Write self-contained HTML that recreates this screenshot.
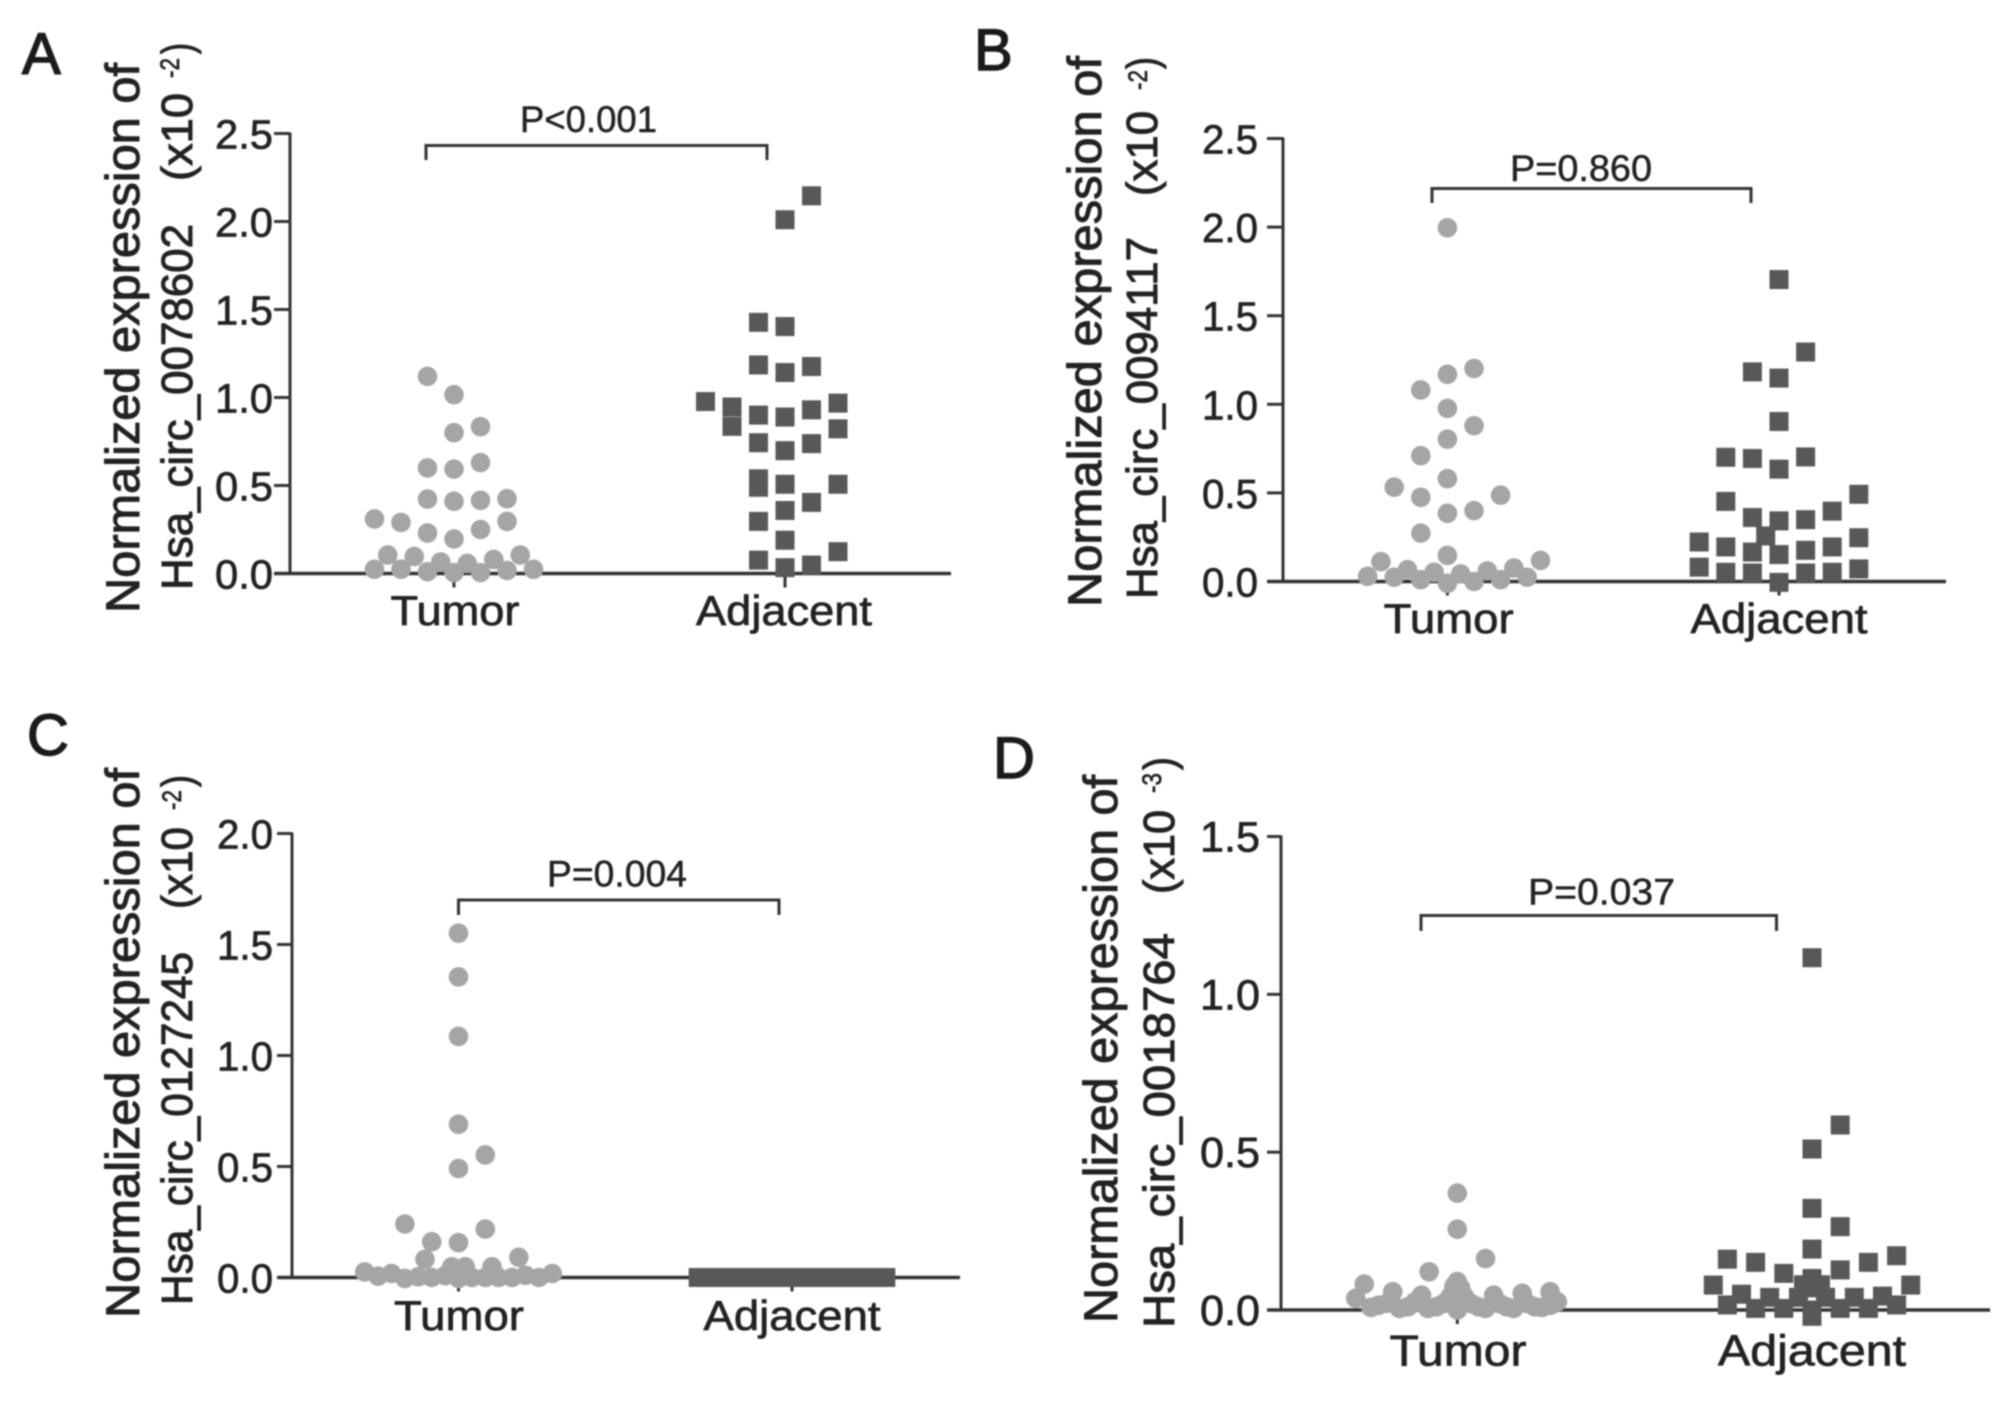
<!DOCTYPE html>
<html lang="en">
<head>
<meta charset="utf-8">
<title>Normalized expression of circRNAs in tumor and adjacent tissue</title>
<style>
html,body{margin:0;padding:0;background:#fff;}
body{width:2008px;height:1422px;overflow:hidden;}
svg{display:block;filter:blur(0.7px);}
text{font-family:"Liberation Sans",sans-serif;fill:#222;stroke:#222;stroke-width:0.7px;}
.t1{font-size:47px;stroke-width:1px;}
.t2{font-size:44px;stroke-width:1px;}
.sup{font-size:27px;}
.panel{font-size:58px;fill:#1a1a1a;stroke:#1a1a1a;stroke-width:1.4px;}
.p{font-size:37px;stroke-width:0.5px;}
</style>
</head>
<body>
<svg id="figure" xmlns="http://www.w3.org/2000/svg" width="2008" height="1422" viewBox="0 0 2008 1422">
  <rect x="0" y="0" width="2008" height="1422" fill="#fff"/>

  <text class="panel" x="22" y="74">A</text>
  <text class="panel" x="974" y="70">B</text>
  <text class="panel" x="27" y="755">C</text>
  <text class="panel" x="993" y="778">D</text>

  <g>
    <text class="t1" transform="translate(139,613) rotate(-90)" textLength="550" lengthAdjust="spacingAndGlyphs">Normalized expression of</text>
    <text class="t2" transform="translate(192,590) rotate(-90)" textLength="366" lengthAdjust="spacingAndGlyphs">Hsa_circ_0078602</text>
    <text class="t2" transform="translate(192,181) rotate(-90)" textLength="88" lengthAdjust="spacingAndGlyphs">(x10</text>
    <text class="sup" transform="translate(179,78) rotate(-90)" textLength="20" lengthAdjust="spacingAndGlyphs">-2</text>
    <text class="t2" transform="translate(192,54) rotate(-90)" textLength="11" lengthAdjust="spacingAndGlyphs">)</text>
  </g>
  <g>
    <text class="t1" transform="translate(1101,607) rotate(-90)" textLength="551" lengthAdjust="spacingAndGlyphs">Normalized expression of</text>
    <text class="t2" transform="translate(1157,599) rotate(-90)" textLength="362" lengthAdjust="spacingAndGlyphs">Hsa_circ_0094117</text>
    <text class="t2" transform="translate(1157,196) rotate(-90)" textLength="85" lengthAdjust="spacingAndGlyphs">(x10</text>
    <text class="sup" transform="translate(1147,90) rotate(-90)" textLength="20" lengthAdjust="spacingAndGlyphs">-2</text>
    <text class="t2" transform="translate(1157,69) rotate(-90)" textLength="12" lengthAdjust="spacingAndGlyphs">)</text>
  </g>
  <g>
    <text class="t1" transform="translate(139,1318) rotate(-90)" textLength="550" lengthAdjust="spacingAndGlyphs">Normalized expression of</text>
    <text class="t2" transform="translate(192,1305) rotate(-90)" textLength="353" lengthAdjust="spacingAndGlyphs">Hsa_circ_0127245</text>
    <text class="t2" transform="translate(192,909) rotate(-90)" textLength="82" lengthAdjust="spacingAndGlyphs">(x10</text>
    <text class="sup" transform="translate(181,810) rotate(-90)" textLength="20" lengthAdjust="spacingAndGlyphs">-2</text>
    <text class="t2" transform="translate(192,787) rotate(-90)" textLength="12" lengthAdjust="spacingAndGlyphs">)</text>
  </g>
  <g>
    <text class="t1" transform="translate(1117,1323) rotate(-90)" textLength="548" lengthAdjust="spacingAndGlyphs">Normalized expression of</text>
    <text class="t2" transform="translate(1174,1328) rotate(-90)" textLength="395" lengthAdjust="spacingAndGlyphs">Hsa_circ_0018764</text>
    <text class="t2" transform="translate(1174,894) rotate(-90)" textLength="84" lengthAdjust="spacingAndGlyphs">(x10</text>
    <text class="sup" transform="translate(1161,793) rotate(-90)" textLength="20" lengthAdjust="spacingAndGlyphs">-3</text>
    <text class="t2" transform="translate(1174,770) rotate(-90)" textLength="13" lengthAdjust="spacingAndGlyphs">)</text>
  </g>
</svg>

<script>
// ---- Panel A ----
const aTickLabels = ['0.0','0.5','1.0','1.5','2.0','2.5'];
const aTumorValues = [1.12,1.016,0.80,0.834,0.60,0.593,0.63,0.423,0.41,0.416,0.425,0.31,0.29,0.23,0.25,0.296,0.196,0.105,0.096,0.08,0.105,0.024,0.024,0.01,0.065,0.005,0.057,0.005,0.017,0.024];
const aTumorSlots = [-1,0,0,1,-1,0,1,-1,0,1,2,-3,-2,-1,1,2,0,-2.5,-1.5,1.5,2.5,-3,-2,-1,-0.5,0,0.5,1,2,3];
const aAdjacentValues = [2.146,2.01,1.427,1.403,1.185,1.142,1.176,0.977,0.946,0.90,0.889,0.93,0.968,0.836,0.822,0.743,0.698,0.738,0.538,0.49,0.507,0.507,0.404,0.358,0.296,0.189,0.076,0.124,0.033,0.048];
const aAdjacentSlots = [1,0,-1,0,-1,0,1,-3,-2,-1,0,1,2,-2,2,-1,0,1,-1,-1,0,2,1,0,-1,0,-1,2,0,1];

// ---- Panel B ----
const bTickLabels = ['0.0','0.5','1.0','1.5','2.0','2.5'];
const bTumorValues = [1.996,1.202,1.169,1.081,0.977,0.879,0.803,0.71,0.58,0.532,0.475,0.487,0.385,0.40,0.273,0.147,0.112,0.119,0.076,0.029,0.024,0.067,0.01,0.052,-0.01,0.043,0,0.06,0.01,0.024];
const bTumorSlots = [0,1,0,-1,0,1,0,-1,0,-2,-1,2,0,1,-1,0,-2.5,3.5,2.5,-3,-2,-1.5,-1,-0.5,0,0.5,1,1.5,2,3];
const bAdjacentValues = [1.704,1.295,1.183,1.148,0.903,0.701,0.694,0.703,0.634,0.492,0.452,0.397,0.361,0.342,0.349,0.257,0.247,0.223,0.195,0.166,0.152,0.176,0.195,0.081,0.052,0.048,-0.005,0.048,0.052,0.071];
const bAdjacentSlots = [0,1,-1,0,0,-2,-1,1,0,3,-2,2,-1,0,1,-0.5,3,-3,-2,-1,0,1,2,-3,-2,-1,0,1,2,3];

// ---- Panel C ----
const cTickLabels = ['0.0','0.5','1.0','1.5','2.0'];
const cTumorValues = [1.551,1.354,1.086,0.69,0.552,0.491,0.241,0.218,0.161,0.157,0.082,0.091,0.025,0.006,0.018,-0.004,0.003,0,0.048,-0.004,0.048,0,0,0.048,0,0,0.01,0,0.018,0.008];
const cTumorSlots = [0,0,0,0,1,0,-2,1,-1,0,-1.25,2.25,-3.5,-3,-2.5,-2,-1.5,-1,-0.25,0,0.25,0.5,1,1.25,1.5,2,2.5,3,3.5,-0.5];
const cAdjacentValues = [0,0,0,0,0,0,0,0,0,0,0,0,0,0,0,0,0,0,0,0,0,0,0,0,0,0,0,0,0];
const cAdjacentSlots = [-3.5,-3.25,-3,-2.75,-2.5,-2.25,-2,-1.75,-1.5,-1.25,-1,-0.75,-0.5,-0.25,0,0.25,0.5,0.75,1,1.25,1.5,1.75,2,2.25,2.5,2.75,3,3.25,3.5];

// ---- Panel D ----
const dTickLabels = ['0.0','0.5','1.0','1.5'];
const dTumorValues = [0.37,0.256,0.163,0.121,0.082,0.037,0.008,0.058,0.005,0.021,0.047,0.005,0.026,0.09,0.058,0.042,0.042,0.026,0.02,0.02,0,0.005,0.047,0.02,0.005,0.053,0.02,0.008,0.058,0.026,0.015,0.01,0.01,0.01,0.01,0.01,0.015,0.075,0.07];
const dTumorSlots = [0,0,1,-1,-3.3,-3.6,-3.06,-2.29,-2.05,-2.5,-1.27,-1.04,-1.5,0,0,-0.26,0.26,0,-0.5,0.5,0,1,1.29,1.5,2,2.3,2.5,3,3.29,3.55,-2.8,-1.75,-0.75,0.75,1.75,2.75,3.3,-0.12,0.12];
const dAdjacentValues = [1.116,0.586,0.51,0.322,0.264,0.193,0.161,0.151,0.116,0.127,0.151,0.172,0.079,0.079,0.05,0.016,0.04,0.005,0.005,0.04,0.1,0.08,0.08,0.07,0.04,0.005,0.04,0.005,0.044,0.016,0,-0.02];
const dAdjacentSlots = [0,1,0,0,1,0,-3,-2,-1,1,2,3,-3.5,3.5,-2.5,-3,-1.5,-2,-1,-0.48,0,-0.3,0.3,0,0.48,1,1.5,2,2.5,3,0,0];

const categories = ['Tumor','Adjacent'];
const pValues = ['P<0.001','P=0.860','P=0.004','P=0.037'];

const TUMOR_COLOR = '#a5a5a5';
const ADJ_COLOR = '#585858';
const LINE_COLOR = '#333333';
const NS = 'http://www.w3.org/2000/svg';
const svg = document.getElementById('figure');

function make(parent, tag, attrs, text) {
  const node = document.createElementNS(NS, tag);
  for (const k in attrs) node.setAttribute(k, attrs[k]);
  if (text !== undefined) node.textContent = text;
  parent.appendChild(node);
  return node;
}

function drawPanel(cfg) {
  const yScale = v => cfg.y0 - (v / cfg.max) * (cfg.y0 - cfg.yTop);
  const xScale = (cat, slot) => cfg.catX[cat] + slot * cfg.step;

  const g = make(svg, 'g', {});
  
  

  const yAxis = make(g, 'line', {x1: cfg.axisX, x2: cfg.axisX, y1: cfg.yTop - 1, y2: cfg.y0, stroke: LINE_COLOR, 'stroke-width': 3});
  
  

  const xAxis = make(g, 'line', {x1: cfg.xLeft, x2: cfg.xRight, y1: cfg.y0, y2: cfg.y0, stroke: LINE_COLOR, 'stroke-width': 3.4});
  
  

  cfg.ticks.forEach(label => {
    const v = parseFloat(label);
    const y = yScale(v);
    const tick = make(g, 'line', {x1: cfg.xLeft, x2: cfg.axisX, y1: y, y2: y, stroke: LINE_COLOR, 'stroke-width': 3});
    
    
    const txt = make(g, 'text', {x: cfg.labelRight, y: y + 15, 'text-anchor': 'end', 'font-size': cfg.tickFont, textLength: cfg.tickWidth, lengthAdjust: 'spacingAndGlyphs'}, label);
    
    
  });

  categories.forEach((name, i) => {
    const xt = make(g, 'line', {x1: cfg.catX[i], x2: cfg.catX[i], y1: cfg.y0, y2: cfg.y0 + 14, stroke: LINE_COLOR, 'stroke-width': 3});
    
    
    const lab = make(g, 'text', {x: cfg.labelCenter[i], y: cfg.labelBase, 'text-anchor': 'middle', 'font-size': cfg.catFont, textLength: cfg.labelWidth[i], lengthAdjust: 'spacingAndGlyphs'}, name);
    
    
  });

  const br = cfg.bracket;
  const bracket = make(g, 'path', {d: 'M' + br.x1 + ' ' + br.drop + 'V' + br.y + 'H' + br.x2 + 'V' + br.drop, fill: 'none', stroke: LINE_COLOR, 'stroke-width': 3});
  
  
  const pTxt = make(g, 'text', {class: 'p', x: cfg.pLabel.x, y: cfg.pLabel.y, textLength: cfg.pLabel.w, lengthAdjust: 'spacingAndGlyphs'}, cfg.pText);
  
  

  cfg.tumorValues.forEach((v, i) => {
    const c = make(g, 'circle', {cx: xScale(0, cfg.tumorSlots[i]), cy: yScale(v), r: 9.8, fill: TUMOR_COLOR});
    
    
  });
  cfg.adjacentValues.forEach((v, i) => {
    const s = make(g, 'rect', {x: xScale(1, cfg.adjacentSlots[i]) - 9.5, y: yScale(v) - 9.5, width: 19, height: 19, fill: ADJ_COLOR});
    
    
  });
}

drawPanel({id:'a', max:2.5, axisX:290, xLeft:274, xRight:951, yTop:133.5, y0:573.5, catX:[454,785], step:26.5,
  ticks:aTickLabels, labelRight:273, tickWidth:58, tickFont:41,
  labelCenter:[455,784], labelBase:625, labelWidth:[129,176], catFont:42,
  bracket:{x1:426, x2:767, y:145.5, drop:160}, pLabel:{x:520, y:132, w:137}, pText:pValues[0],
  tumorValues:aTumorValues, tumorSlots:aTumorSlots, adjacentValues:aAdjacentValues, adjacentSlots:aAdjacentSlots});

drawPanel({id:'b', max:2.5, axisX:1283, xLeft:1267, xRight:1946, yTop:138.5, y0:581.5, catX:[1447.4,1779], step:26.6,
  ticks:bTickLabels, labelRight:1258, tickWidth:56, tickFont:41,
  labelCenter:[1448.7,1779], labelBase:633, labelWidth:[130,177], catFont:42,
  bracket:{x1:1432, x2:1751, y:188.5, drop:203}, pLabel:{x:1510, y:181, w:142}, pText:pValues[1],
  tumorValues:bTumorValues, tumorSlots:bTumorSlots, adjacentValues:bAdjacentValues, adjacentSlots:bAdjacentSlots});

drawPanel({id:'c', max:2.0, axisX:292, xLeft:277, xRight:960, yTop:833.5, y0:1277.5, catX:[458.5,792], step:26.8,
  ticks:cTickLabels, labelRight:273, tickWidth:56, tickFont:41,
  labelCenter:[459,792], labelBase:1330, labelWidth:[130,177], catFont:42,
  bracket:{x1:458.5, x2:779, y:900, drop:915}, pLabel:{x:547, y:886.5, w:140}, pText:pValues[2],
  tumorValues:cTumorValues, tumorSlots:cTumorSlots, adjacentValues:cAdjacentValues, adjacentSlots:cAdjacentSlots});

drawPanel({id:'d', max:1.5, axisX:1281, xLeft:1267, xRight:1990, yTop:836.5, y0:1310, catX:[1457.3,1812], step:28.2,
  ticks:dTickLabels, labelRight:1260, tickWidth:60, tickFont:43,
  labelCenter:[1458,1812], labelBase:1365.5, labelWidth:[137,188], catFont:44,
  bracket:{x1:1421, x2:1776.5, y:915.5, drop:931}, pLabel:{x:1528, y:904.7, w:147}, pText:pValues[3],
  tumorValues:dTumorValues, tumorSlots:dTumorSlots, adjacentValues:dAdjacentValues, adjacentSlots:dAdjacentSlots});
</script>
</body>
</html>
